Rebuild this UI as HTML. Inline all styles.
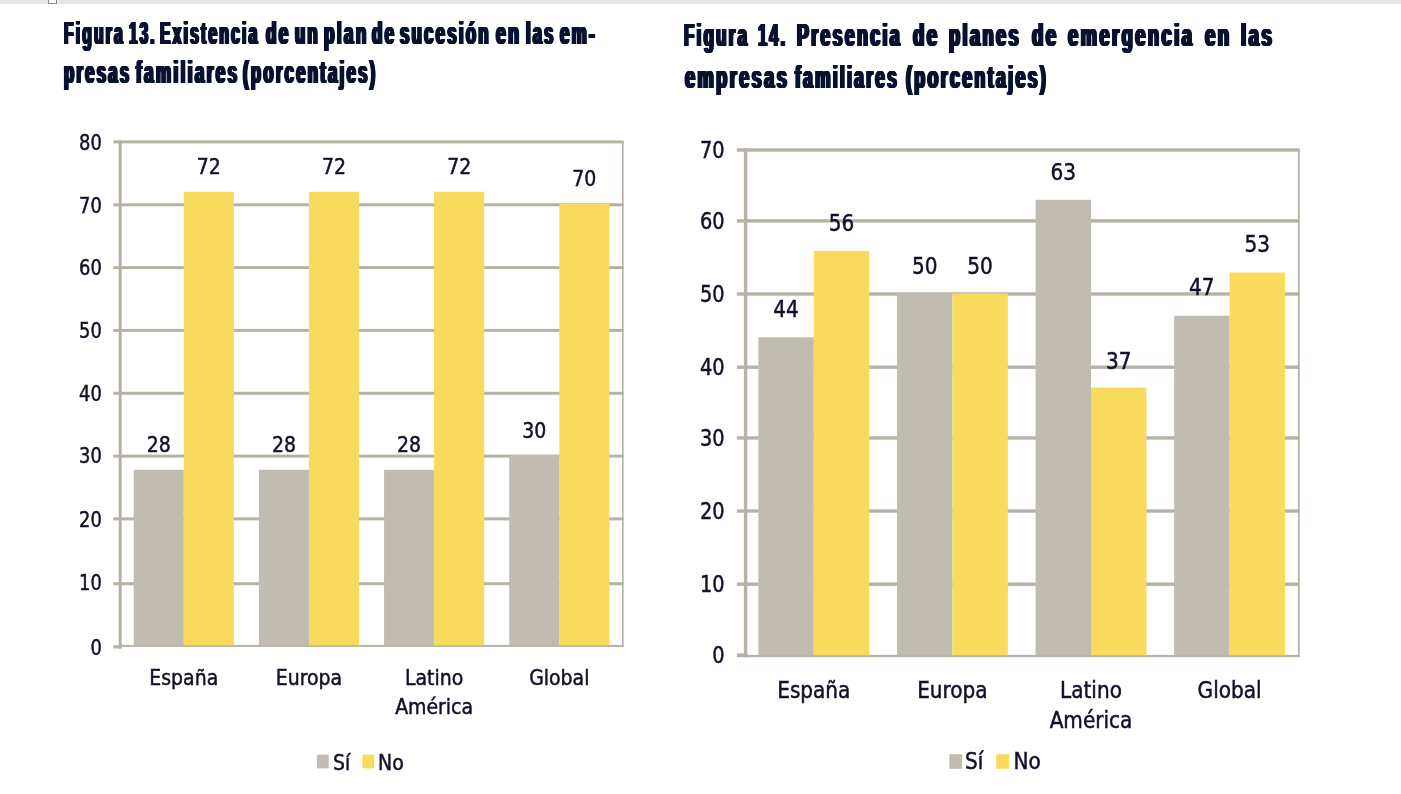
<!DOCTYPE html>
<html lang="es">
<head>
<meta charset="utf-8">
<title>Figuras 13 y 14</title>
<style>
html,body{margin:0;padding:0;background:#fff;}
body{width:1401px;height:794px;position:relative;overflow:hidden;font-family:"DejaVu Sans Condensed","Liberation Sans",sans-serif;}
.topbar{position:absolute;left:0;top:0;width:1401px;height:4px;background:#e6e6e6;}
.tab{position:absolute;left:48px;top:-6px;width:7px;height:8px;background:#fff;border:1px solid #8c8c8c;}
.title{position:absolute;left:0;top:0;margin:0;font-family:"Liberation Sans",sans-serif;font-weight:bold;color:#081230;font-size:30.5px;line-height:40px;letter-spacing:4.2px;
 text-shadow:0.7px 0 0 #081230,-0.7px 0 0 #081230,1.4px 0 0 #081230,-1.4px 0 0 #081230,2.1px 0 0 #081230,-2.1px 0 0 #081230;}
.tl{position:absolute;left:0;display:block;white-space:nowrap;height:40px;}
.tB{font-size:32.025px;}
.tl>span{position:absolute;top:0;display:block;transform-origin:0 0;}
svg{position:absolute;left:0;top:0;filter:blur(0.4px);}
svg text{font-family:"DejaVu Sans Condensed","Liberation Sans",sans-serif;fill:#10102a;stroke:#10102a;stroke-width:0.45px;}
</style>
</head>
<body>
<div class="topbar"></div><div class="tab"></div>
<h2 class="title"><span class="tl tA" style="top:13.43px"><span style="left:63.7px;transform:scaleX(0.5138)">Figura</span> <span style="left:129.0px;transform:scaleX(0.502)">13.</span> <span style="left:160.1px;transform:scaleX(0.5157)">Existencia</span> <span style="left:265.56px;transform:scaleX(0.5595)">de</span> <span style="left:294.5px;transform:scaleX(0.5452)">un</span> <span style="left:323.5px;transform:scaleX(0.5613)">plan</span> <span style="left:372.15px;transform:scaleX(0.5548)">de</span> <span style="left:400.45px;transform:scaleX(0.5479)">sucesión</span> <span style="left:496.18px;transform:scaleX(0.5756)">en</span> <span style="left:525.6px;transform:scaleX(0.5365)">las</span> <span style="left:560.45px;transform:scaleX(0.5531)">em-</span></span><span class="tl tA" style="top:51.73px"><span style="left:64.3px;transform:scaleX(0.545)">presas</span> <span style="left:135.56px;transform:scaleX(0.561)">familiares</span> <span style="left:242.6px;transform:scaleX(0.5467)">(porcentajes)</span></span></h2>
<h2 class="title"><span class="tl tB" style="top:15.40px"><span style="left:683.5px;transform:scaleX(0.5298)">Figura</span> <span style="left:758.3px;transform:scaleX(0.5132)">14.</span> <span style="left:796.9px;transform:scaleX(0.5551)">Presencia</span> <span style="left:913.38px;transform:scaleX(0.5814)">de</span> <span style="left:948.9px;transform:scaleX(0.5691)">planes</span> <span style="left:1031.58px;transform:scaleX(0.5814)">de</span> <span style="left:1067.57px;transform:scaleX(0.5744)">emergencia</span> <span style="left:1204.78px;transform:scaleX(0.5814)">en</span> <span style="left:1240.6px;transform:scaleX(0.5815)">las</span></span><span class="tl tB" style="top:56.60px"><span style="left:684.57px;transform:scaleX(0.5691)">empresas</span> <span style="left:795.44px;transform:scaleX(0.5439)">familiares</span> <span style="left:906.3px;transform:scaleX(0.5563)">(porcentajes)</span></span></h2>
<svg width="1401" height="794" viewBox="0 0 1401 794">
<g fill="#b7b2a5">
<rect x="113.40" y="645.20" width="8.30" height="3.30"/>
<rect x="120.20" y="644.90" width="503.40" height="2.00"/>
<rect x="113.40" y="582.20" width="510.20" height="3"/>
<rect x="113.40" y="517.40" width="510.20" height="3"/>
<rect x="113.40" y="454.60" width="510.20" height="3"/>
<rect x="113.40" y="391.80" width="510.20" height="3"/>
<rect x="113.40" y="328.90" width="510.20" height="3"/>
<rect x="113.40" y="266.10" width="510.20" height="3"/>
<rect x="113.40" y="203.30" width="510.20" height="3"/>
<rect x="113.40" y="140.40" width="510.20" height="3"/>
<rect x="118.70" y="140.40" width="3" height="508.10"/>
<rect x="622.00" y="141.90" width="1.6" height="505.00"/>
</g>
<g font-size="21.0" text-anchor="end" transform="translate(101.80,0) scale(0.945,1)">
<text x="0" y="149.70">80</text>
<text x="0" y="212.60">70</text>
<text x="0" y="275.40">60</text>
<text x="0" y="338.20">50</text>
<text x="0" y="401.10">40</text>
<text x="0" y="463.20">30</text>
<text x="0" y="526.70">20</text>
<text x="0" y="589.70">10</text>
<text x="0" y="654.60">0</text>
</g>
<rect x="133.72" y="469.80" width="50.07" height="175.50" fill="#c1bcb1"/>
<rect x="183.79" y="191.80" width="50.07" height="453.50" fill="#f8da5c"/>
<rect x="258.89" y="469.80" width="50.07" height="175.50" fill="#c1bcb1"/>
<rect x="308.96" y="191.80" width="50.07" height="453.50" fill="#f8da5c"/>
<rect x="384.07" y="469.80" width="50.07" height="175.50" fill="#c1bcb1"/>
<rect x="434.14" y="191.80" width="50.07" height="453.50" fill="#f8da5c"/>
<rect x="509.24" y="455.00" width="50.07" height="190.30" fill="#c1bcb1"/>
<rect x="559.31" y="203.70" width="50.07" height="441.60" fill="#f8da5c"/>
<g font-size="21.0" text-anchor="middle">
<text x="158.75" y="451.70">28</text>
<text x="208.82" y="173.70">72</text>
<text x="283.93" y="451.70">28</text>
<text x="334.00" y="173.70">72</text>
<text x="409.10" y="451.70">28</text>
<text x="459.17" y="173.70">72</text>
<text x="534.28" y="437.50">30</text>
<text x="584.35" y="186.30">70</text>
<text x="183.79" y="685.30">España</text>
<text x="308.96" y="685.30">Europa</text>
<text x="434.14" y="685.30">Latino</text>
<text x="434.14" y="713.80">América</text>
<text x="559.31" y="685.30">Global</text>
</g>
<rect x="317.1" y="754.6" width="11.6" height="13.8" fill="#c1bcb1"/>
<rect x="362.5" y="754.6" width="11.6" height="13.8" fill="#f8da5c"/>
<g font-size="21.0"><text x="333.1" y="770.0">Sí</text><text x="378.1" y="770.0">No</text></g>
<g fill="#b7b2a5">
<rect x="736.80" y="653.30" width="10.50" height="3.90"/>
<rect x="745.60" y="654.90" width="554.10" height="2.30"/>
<rect x="736.80" y="582.50" width="562.90" height="3.4"/>
<rect x="736.80" y="509.30" width="562.90" height="3.4"/>
<rect x="736.80" y="436.25" width="562.90" height="3.4"/>
<rect x="736.80" y="365.50" width="562.90" height="3.4"/>
<rect x="736.80" y="292.30" width="562.90" height="3.4"/>
<rect x="736.80" y="219.20" width="562.90" height="3.4"/>
<rect x="736.80" y="148.30" width="562.90" height="3.4"/>
<rect x="743.90" y="148.30" width="3.4" height="508.90"/>
<rect x="1297.90" y="150.00" width="1.8" height="507.20"/>
</g>
<g font-size="22.3" text-anchor="end" transform="translate(724.60,0) scale(0.965,1)">
<text x="0" y="158.00">70</text>
<text x="0" y="228.90">60</text>
<text x="0" y="302.00">50</text>
<text x="0" y="375.20">40</text>
<text x="0" y="445.95">30</text>
<text x="0" y="519.00">20</text>
<text x="0" y="592.20">10</text>
<text x="0" y="663.20">0</text>
</g>
<rect x="758.36" y="337.30" width="55.44" height="318.00" fill="#c1bcb1"/>
<rect x="813.80" y="250.90" width="55.44" height="404.40" fill="#f8da5c"/>
<rect x="896.96" y="293.50" width="55.44" height="361.80" fill="#c1bcb1"/>
<rect x="952.40" y="293.50" width="55.44" height="361.80" fill="#f8da5c"/>
<rect x="1035.56" y="199.80" width="55.44" height="455.50" fill="#c1bcb1"/>
<rect x="1091.00" y="387.60" width="55.44" height="267.70" fill="#f8da5c"/>
<rect x="1174.16" y="315.80" width="55.44" height="339.50" fill="#c1bcb1"/>
<rect x="1229.60" y="272.50" width="55.44" height="382.80" fill="#f8da5c"/>
<g font-size="22.3" text-anchor="middle">
<text x="786.08" y="317.30">44</text>
<text x="841.52" y="231.00">56</text>
<text x="924.68" y="274.30">50</text>
<text x="980.12" y="274.30">50</text>
<text x="1063.28" y="179.90">63</text>
<text x="1118.72" y="369.40">37</text>
<text x="1201.88" y="295.20">47</text>
<text x="1257.32" y="252.40">53</text>
<text x="813.80" y="697.90">España</text>
<text x="952.40" y="697.90">Europa</text>
<text x="1091.00" y="697.90">Latino</text>
<text x="1091.00" y="727.90">América</text>
<text x="1229.60" y="697.90">Global</text>
</g>
<rect x="949.3" y="754.2" width="12.8" height="14.6" fill="#c1bcb1"/>
<rect x="996.2" y="754.2" width="12.8" height="14.6" fill="#f8da5c"/>
<g font-size="22.3"><text x="965.0" y="769.0">Sí</text><text x="1013.6" y="769.0">No</text></g>
</svg>
</body>
</html>
